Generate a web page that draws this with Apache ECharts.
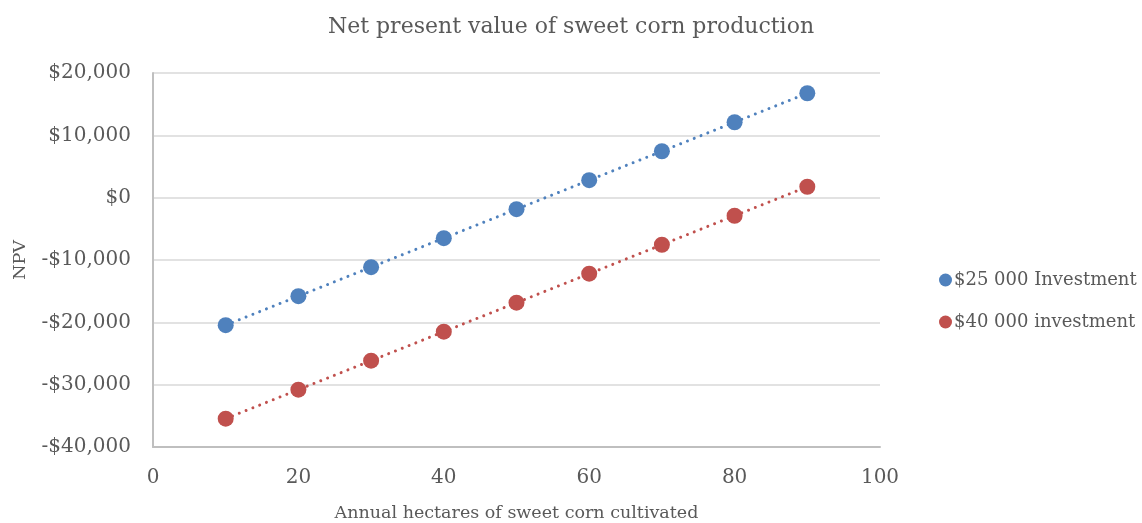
<!DOCTYPE html>
<html>
<head>
<meta charset="utf-8">
<script src="https://cdn.jsdelivr.net/npm/echarts@6/dist/echarts.min.js"></script>
<style>
  html, body { margin: 0; padding: 0; background: #fff; overflow: hidden; }
  #chart { width: 1142px; height: 523px; }
</style>
</head>
<body>
<div id="chart"></div>
<script>
// Hectares of sweet corn cultivated per year
const hectares = [10, 20, 30, 40, 50, 60, 70, 80, 90];
// Net present value for each scenario
const npv25k = [-20450, -15800, -11150, -6500, -1850, 2800, 7450, 12100, 16750];
const npv40k = [-35450, -30800, -26150, -21500, -16850, -12200, -7550, -2900, 1750];
const seriesNames = ['$25 000 Investment', '$40 000 investment'];
const titleText = 'Net present value of sweet corn production';
const xAxisName = 'Annual hectares of sweet corn cultivated';
const yAxisName = 'NPV';

const FONT = 'DejaVu Serif';
const TEXT = '#595959';
const colors = ['#4f81bd', '#c0504d'];

function pairs(xs, ys) { return xs.map((x, i) => [x, ys[i]]); }

function money(v) {
  const s = Math.abs(v).toLocaleString('en-US');
  return (v < 0 ? '-$' : '$') + s;
}

function makeSeries(name, values, color) {
  return {
    name: name,
    type: 'line',
    data: pairs(hectares, values),
    symbol: 'circle',
    symbolSize: 16,
    itemStyle: { color: color },
    lineStyle: { color: color, width: 3, type: [0.01, 7.3], cap: 'round' },
    emphasis: { disabled: true },
    animation: false
  };
}

const chart = echarts.init(document.getElementById('chart'));
chart.setOption({
  backgroundColor: '#fff',
  textStyle: { fontFamily: FONT, color: TEXT },
  title: {
    text: titleText,
    left: 'center',
    top: 11,
    textStyle: { fontFamily: FONT, fontSize: 22, fontWeight: 'normal', color: TEXT }
  },
  legend: {
    orient: 'vertical',
    left: 934,
    top: 266,
    itemGap: 24,
    itemWidth: 13,
    itemHeight: 13,
    icon: 'circle',
    textStyle: { fontFamily: FONT, fontSize: 18, color: TEXT, padding: [0, 0, 0, -3] },
    data: seriesNames
  },
  grid: {
    left: 153, right: 262, top: 73, bottom: 76,
    containLabel: false,
    outerBoundsMode: 'none'
  },
  xAxis: {
    type: 'value',
    min: 0, max: 100, interval: 20,
    name: xAxisName,
    nameLocation: 'middle',
    nameGap: 57,
    nameTextStyle: { fontFamily: FONT, fontSize: 17.5, color: TEXT },
    axisLine: { show: true, onZero: false, lineStyle: { color: '#bfbfbf', width: 2 } },
    axisTick: { show: false },
    axisLabel: { fontFamily: FONT, fontSize: 20, color: TEXT, margin: 21 },
    splitLine: { show: false }
  },
  yAxis: {
    type: 'value',
    min: -40000, max: 20000, interval: 10000,
    name: yAxisName,
    nameLocation: 'middle',
    nameGap: 124,
    nameRotate: 90,
    nameTextStyle: { fontFamily: FONT, fontSize: 17.5, color: TEXT },
    axisLine: { show: true, onZero: false, lineStyle: { color: '#bfbfbf', width: 2 } },
    axisTick: { show: false },
    axisLabel: { fontFamily: FONT, fontSize: 20, color: TEXT, margin: 22, formatter: money },
    splitLine: { show: true, lineStyle: { color: '#d9d9d9', width: 1.5 } }
  },
  series: [
    makeSeries(seriesNames[0], npv25k, colors[0]),
    makeSeries(seriesNames[1], npv40k, colors[1])
  ]
});
</script>
</body>
</html>
